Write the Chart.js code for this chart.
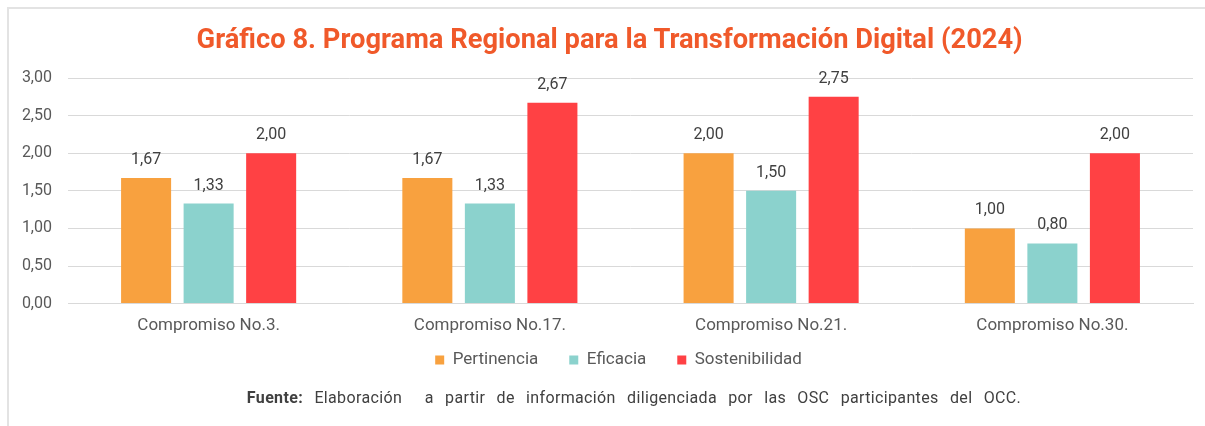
<!DOCTYPE html>
<html>
<head>
<meta charset="utf-8">
<script src="https://cdn.jsdelivr.net/npm/chart.js@4.4.1/dist/chart.umd.min.js"></script>
<style>
  html, body { margin: 0; padding: 0; background: #fff; }
  body { width: 1205px; height: 426px; overflow: hidden; position: relative; font-family: Roboto, "Noto Sans", sans-serif; }
  .frame { position: absolute; left: 7px; top: 7px; right: -5px; bottom: -5px; border-left: 2px solid #e3e3e3; border-top: 2px solid #e3e3e3; }
  .title { position: absolute; left: 0; width: 1220px; top: 25px; text-align: center; color: #f0592a; font-weight: bold; font-size: 28px; line-height: 28px; }
  .title span { display: inline-block; transform: scaleX(0.975); transform-origin: center; white-space: nowrap; }
  .source { position: absolute; left: 0; width: 1268px; top: 390px; text-align: center; color: #404040; font-size: 16px; line-height: 16px; word-spacing: 7px; letter-spacing: 0.35px; white-space: nowrap; }
  .source b { font-weight: bold; }
  #wrap { position: absolute; left: 0; top: 0; width: 1205px; height: 426px; }
</style>
</head>
<body>
<div class="frame"></div>
<div id="wrap"><canvas id="chart"></canvas></div>
<div class="title"><span>Gráfico 8. Programa Regional para la Transformación Digital (2024)</span></div>
<div class="source"><b>Fuente:</b> Elaboración &nbsp;a partir de información diligenciada por las OSC participantes del OCC.</div>
<script>
  const categories = ['Compromiso No.3.', 'Compromiso No.17.', 'Compromiso No.21.', 'Compromiso No.30.'];
  const pertinencia = [1.67, 1.67, 2.00, 1.00];
  const eficacia = [1.33, 1.33, 1.50, 0.80];
  const sostenibilidad = [2.00, 2.67, 2.75, 2.00];
  const yTicks = [0, 0.5, 1, 1.5, 2, 2.5, 3];

  const fmt = v => v.toFixed(2).replace('.', ',');

  // value labels above each bar
  const valueLabels = {
    id: 'valueLabels',
    afterDatasetsDraw(chart) {
      const ctx = chart.ctx;
      ctx.save();
      ctx.font = '16px Roboto';
      ctx.fillStyle = '#404040';
      ctx.textAlign = 'center';
      ctx.textBaseline = 'alphabetic';
      chart.data.datasets.forEach((ds, i) => {
        chart.getDatasetMeta(i).data.forEach((bar, j) => {
          ctx.fillText(fmt(ds.data[j]), bar.x, bar.y - 14);
        });
      });
      ctx.restore();
    }
  };

  // pull the legend up under the axis labels and a bit to the right
  const legendPlace = {
    id: 'legendPlace',
    afterLayout(chart) {
      const lg = chart.legend;
      if (!lg) return;
      const h = lg.bottom - lg.top;
      lg.top = chart.chartArea.bottom + 17;
      lg.bottom = lg.top + h;
      lg.left += 22;
      lg.right += 22;
    }
  };

  new Chart(document.getElementById('chart'), {
    type: 'bar',
    data: {
      labels: categories,
      datasets: [
        { label: 'Pertinencia', data: pertinencia, backgroundColor: '#f8a13f' },
        { label: 'Eficacia', data: eficacia, backgroundColor: '#8bd2cd' },
        { label: 'Sostenibilidad', data: sostenibilidad, backgroundColor: '#ff4144' }
      ]
    },
    options: {
      responsive: true,
      maintainAspectRatio: false,
      animation: false,
      layout: { padding: { left: 0, right: 12, top: 78, bottom: 28 } },
      datasets: { bar: { categoryPercentage: 0.667, barPercentage: 0.8 } },
      scales: {
        x: {
          grid: { display: false },
          border: { color: '#d9d9d9', width: 1 },
          ticks: { color: '#595959', font: { family: 'Roboto', size: 17 }, padding: 4 }
        },
        y: {
          min: 0, max: 3,
          afterBuildTicks: axis => { axis.ticks = yTicks.map(v => ({ value: v })); },
          grid: { color: '#d9d9d9', lineWidth: 1, drawTicks: false },
          border: { display: false },
          ticks: { color: '#595959', font: { family: 'Roboto', size: 16 }, padding: 16, callback: v => fmt(v) },
          afterFit: axis => { axis.width = 68; }
        }
      },
      plugins: {
        legend: {
          position: 'bottom',
          labels: { color: '#595959', font: { family: 'Roboto', size: 17 }, boxWidth: 9, boxHeight: 9, padding: 31 }
        },
        tooltip: { enabled: false }
      }
    },
    plugins: [valueLabels, legendPlace]
  });
</script>
</body>
</html>
